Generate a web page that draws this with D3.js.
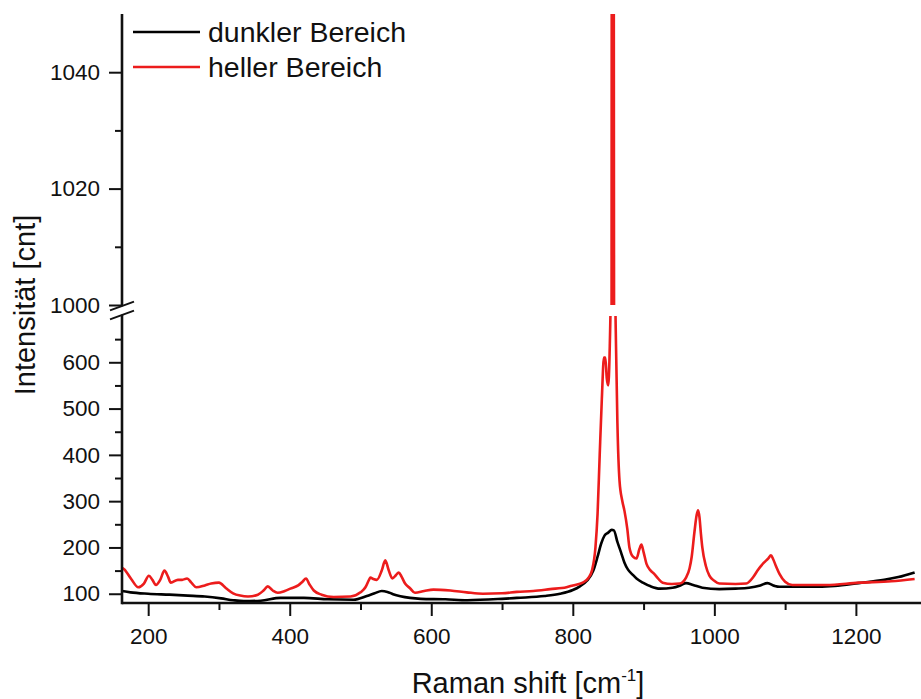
<!DOCTYPE html>
<html><head><meta charset="utf-8">
<script src="https://cdn.jsdelivr.net/npm/d3@7"></script>
<style>
body{margin:0;background:#fff;}
text{font-family:"Liberation Sans",Arial,Helvetica,sans-serif;fill:#111;}
</style>
</head><body>
<svg id="chart" width="921" height="699"></svg>
<script>
// ---------- data ----------
const darkX = [163,175,200,230,256,280,303,320,335,359,387,420,454,490,509,520,530,538,546,570,585,620,651,700,721,760,782,800,810,820,829,835,840,845,850,855,858,863,868,873,878,884,890,899,910,923,941,952,960,970,983,1007,1030,1049,1065,1075,1085,1092,1134,1170,1204,1240,1260,1283];
const darkY = [106,103,100,98,96,94,90,86,84,85,91,91,88,87,95,101,106,104,99,91,89,88,86,89,91,95,100,108,116,128,150,180,208,226,232,238,237,212,190,167,152,142,133,124,116,111,113,118,123,119,113,110,111,113,118,123,117,115,115,117,123,130,136,146];

const brightX = [163,166,176,186,194,201,206,211,217,223,228,232,242,248,255,261,268,280,289,300,310,320,330,341,355,363,369,376,383,393,401,412,418,423,428,434,445,462,486,500,507,512,514,518,523,530,535,540,545,550,554,558,563,570,577,590,603,627,650,673,700,721,744,768,791,800,814,822,827,832,835,838,841,844,846,848,850,852,854,855.5,857.5,859,861,863,866,870,873,877,880,885,890,894,897,900,904,910,915,921,927,940,951,960,965,968,972,975,977,979,981,983,988,993,1000,1007,1030,1045,1055,1061,1070,1076,1080,1083,1087,1092,1100,1110,1158,1204,1250,1283];
const brightY = [156,153,132,114,122,139,130,119,130,150,137,124,130,130,133,124,114,118,122,124,112,101,96,94,98,107,116,107,102,106,111,118,126,133,120,107,98,93,94,103,114,130,135,132,130,150,172,150,133,140,146,137,122,112,102,106,109,107,103,100,101,104,106,110,114,118,124,134,150,200,273,400,520,610,610,565,550,620,800,1120,1120,850,640,470,344,300,279,240,200,180,176,196,206,190,165,150,143,132,124,121,122,135,155,180,235,270,280,265,230,200,160,139,128,122,121,122,136,150,167,176,183,175,160,143,126,119,119,124,127,132];

const seriesNames = ["dunkler Bereich", "heller Bereich"];

const xMajorTicks = [200,400,600,800,1000,1200];
const xMinorTicks = [300,500,700,900,1100];
const yLowMajorTicks = [100,200,300,400,500,600];
const yLowMinorTicks = [150,250,350,450,550,650];
const yHighMajorTicks = [1000,1020,1040];
const yHighMinorTicks = [1010,1030];

const xTitle = "Raman shift [cm";
const xTitleSup = "-1";
const yTitle = "Intensität [cnt]";

// ---------- layout ----------
const svg = d3.select("#chart");
const L = 122, R = 921, B = 603, T = 14;
const x = d3.scaleLinear().domain([163, 1292]).range([L, R]);
const yLow = d3.scaleLinear().domain([80, 700]).range([B, 316]);
const yHigh = d3.scaleLinear().domain([1000, 1050]).range([305, T]);

const red = "#ec1c1c";

const defs = svg.append("defs");
defs.append("clipPath").attr("id","clipLow").append("rect")
  .attr("x", L).attr("y", yLow(700)).attr("width", R - L).attr("height", B - yLow(700));
defs.append("clipPath").attr("id","clipHigh").append("rect")
  .attr("x", L).attr("y", T).attr("width", R - L).attr("height", yHigh(1000) - T);

const dark = darkX.map((d,i)=>({x:d, y:darkY[i]}));
const bright = brightX.map((d,i)=>({x:d, y:brightY[i]}));

const lineLow = d3.line().curve(d3.curveMonotoneX).x(d=>x(d.x)).y(d=>yLow(d.y));
const lineHigh = d3.line().curve(d3.curveMonotoneX).x(d=>x(d.x)).y(d=>yHigh(d.y));

const series = [{data:dark, color:"#000"}, {data:bright, color:red}];
series.forEach(s=>{
  svg.append("path").datum(s.data).attr("clip-path","url(#clipLow)")
    .attr("d", lineLow).attr("fill","none").attr("stroke", s.color)
    .attr("stroke-width", 2.6).attr("stroke-linejoin","round");
  svg.append("path").datum(s.data).attr("clip-path","url(#clipHigh)")
    .attr("d", lineHigh).attr("fill","none").attr("stroke", s.color)
    .attr("stroke-width", 2.6).attr("stroke-linejoin","round");
});

// ---------- axes ----------
function styleAxis(g){
  g.select(".domain").remove();
  g.selectAll(".tick line").attr("stroke","#111").attr("stroke-width",2);
  g.selectAll(".tick text").style("font-size","22.5px").attr("fill","#111");
}
const fmt = d3.format("d");
svg.append("g").attr("transform",`translate(0,${B})`)
  .call(d3.axisBottom(x).tickValues(xMajorTicks).tickSize(13).tickPadding(12).tickFormat(fmt)).call(styleAxis);
svg.append("g").attr("transform",`translate(0,${B})`)
  .call(d3.axisBottom(x).tickValues(xMinorTicks).tickSize(7).tickFormat("")).call(styleAxis);
svg.append("g").attr("transform",`translate(${L},0)`)
  .call(d3.axisLeft(yLow).tickValues(yLowMajorTicks).tickSize(13).tickPadding(9).tickFormat(fmt)).call(styleAxis);
svg.append("g").attr("transform",`translate(${L},0)`)
  .call(d3.axisLeft(yLow).tickValues(yLowMinorTicks).tickSize(7).tickFormat("")).call(styleAxis);
svg.append("g").attr("transform",`translate(${L},0)`)
  .call(d3.axisLeft(yHigh).tickValues(yHighMajorTicks).tickSize(13).tickPadding(9).tickFormat(fmt)).call(styleAxis);
svg.append("g").attr("transform",`translate(${L},0)`)
  .call(d3.axisLeft(yHigh).tickValues(yHighMinorTicks).tickSize(7).tickFormat("")).call(styleAxis);

// axis lines
svg.append("line").attr("x1",L).attr("x2",R).attr("y1",B).attr("y2",B)
  .attr("stroke","#111").attr("stroke-width",2.6);
svg.append("line").attr("x1",L).attr("x2",L).attr("y1",T).attr("y2",B+1.3)
  .attr("stroke","#111").attr("stroke-width",2.6);

// axis break mark
const yTopBreak = yHigh(1000), yBotBreak = yLow(700);
const dx = 12, slope = 0.36;
svg.append("polygon")
  .attr("points", [[L-dx, yTopBreak+dx*slope+1.5],[L+dx, yTopBreak-dx*slope+1.5],[L+dx, yBotBreak-dx*slope-1.5],[L-dx, yBotBreak+dx*slope-1.5]].map(p=>p.join(",")).join(" "))
  .attr("fill","#fff");
[yTopBreak+1, yBotBreak-1].forEach(yy=>{
  svg.append("line").attr("x1",L-dx).attr("x2",L+dx)
    .attr("y1",yy+dx*slope).attr("y2",yy-dx*slope)
    .attr("stroke","#111").attr("stroke-width",2);
});

// ---------- titles ----------
const xt = svg.append("text").attr("x", 528).attr("y", 693).attr("text-anchor","middle")
  .style("font-size","29px");
xt.append("tspan").text(xTitle);
xt.append("tspan").text(xTitleSup).attr("dy",-12).style("font-size","17px");
xt.append("tspan").text("]").attr("dy",12);

svg.append("text").attr("transform","translate(35,305) rotate(-90)")
  .attr("text-anchor","middle").style("font-size","29px").text(yTitle);

// ---------- legend ----------
const legColors = ["#000", red];
seriesNames.forEach((n,i)=>{
  const yy = 32 + i*35;
  svg.append("line").attr("x1",133).attr("x2",200).attr("y1",yy).attr("y2",yy)
    .attr("stroke",legColors[i]).attr("stroke-width",2.6);
  svg.append("text").attr("x",208).attr("y",yy+10).style("font-size","28.5px").text(n);
});
</script>
</body></html>
